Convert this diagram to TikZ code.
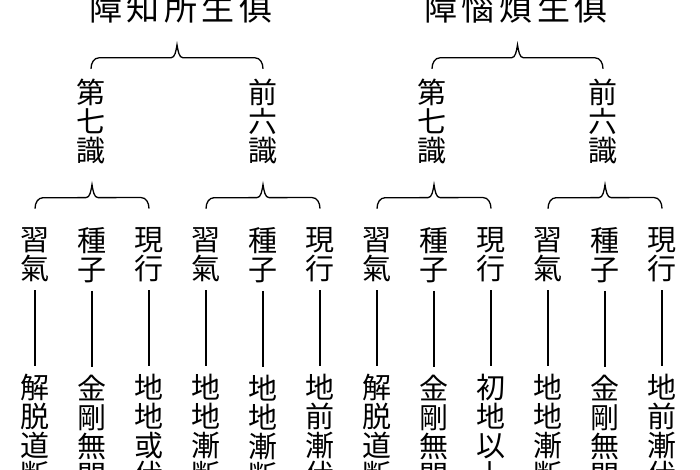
\documentclass[tikz,border=0pt]{standalone}
\usepackage{fontspec}
\setmainfont{Noto Sans CJK JP}
\usetikzlibrary{positioning, calc}
\tikzstyle{title} = [inner sep=0, font=\fontsize{33pt}{33pt}\selectfont]
\tikzstyle{vert} = [inner sep=0, align=center, font=\fontsize{29pt}{29pt}\selectfont]
\tikzstyle{line} = [line width=1.6pt, shorten <=8pt, shorten >=8pt]
\tikzstyle{bracketline} = [line width=1.3pt]
\newcommand{\gap}{\hspace{4.5pt}}
% brace between two nodes, tip pointing up
\newcommand{\bracket}[3]{%
  \path ([yshift=#3]#1.north) coordinate (bl) ([yshift=#3]#2.north) coordinate (br);
  \draw[bracketline] (bl) .. controls +(0,-6) and +(-5,0) .. ($(bl)+(8,-11)$)
    -- ($(bl)!.5!(br)+(-6,-11)$) .. controls +(4,0) and +(-1,6) .. ($(bl)!.5!(br)+(0,-24)$)
    .. controls +(1,6) and +(-4,0) .. ($(bl)!.5!(br)+(6,-11)$)
    -- ($(br)+(-8,-11)$) .. controls +(5,0) and +(0,-6) .. (br);
}

\begin{document}
\begin{tikzpicture}[x=1pt, y=-1pt]
    \clip (0,0) rectangle (700,470);
    \node (cognitive) [title] at (181,8) {障\gap 知\gap 所\gap 生\gap 俱};
    \node (afflictive) [title] at (516,8) {障\gap 惱\gap 煩\gap 生\gap 俱};

    \node (seventh1) [vert] at (91,121.5) {第\\七\\識};
    \node (sixth1) [vert] at (263,121.5) {前\\六\\識};
    \node (seventh2) [vert] at (432,121.5) {第\\七\\識};
    \node (sixth2) [vert] at (603,121.5) {前\\六\\識};

    \node (hab1) [vert] at (35,255) {習\\氣};
    \node (seed1) [vert, right=27.6pt of hab1] {種\\子};
    \node (act1) [vert, right=27.6pt of seed1] {現\\行};
    \node (hab2) [vert, right=27.6pt of act1] {習\\氣};
    \node (seed2) [vert, right=27.6pt of hab2] {種\\子};
    \node (act2) [vert, right=27.6pt of seed2] {現\\行};
    \node (hab3) [vert] at (377,255) {習\\氣};
    \node (seed3) [vert, right=27.6pt of hab3] {種\\子};
    \node (act3) [vert, right=27.6pt of seed3] {現\\行};
    \node (hab4) [vert, right=27.6pt of act3] {習\\氣};
    \node (seed4) [vert, right=27.6pt of hab4] {種\\子};
    \node (act4) [vert, right=27.6pt of seed4] {現\\行};

    \node (hab1d) [vert, below=91.8pt of hab1] {解\\脱\\道\\断};
    \node (seed1d) [vert, below=91.8pt of seed1] {金\\剛\\無\\間};
    \node (act1d) [vert, below=91.8pt of act1] {地\\地\\或\\伏};
    \node (hab2d) [vert, below=91.8pt of hab2] {地\\地\\漸\\断};
    \node (seed2d) [vert, below=91.8pt of seed2] {地\\地\\漸\\断};
    \node (act2d) [vert, below=91.8pt of act2] {地\\前\\漸\\伏};
    \node (hab3d) [vert, below=91.8pt of hab3] {解\\脱\\道\\断};
    \node (seed3d) [vert, below=91.8pt of seed3] {金\\剛\\無\\間};
    \node (act3d) [vert, below=91.8pt of act3] {初\\地\\以\\上};
    \node (hab4d) [vert, below=91.8pt of hab4] {地\\地\\漸\\断};
    \node (seed4d) [vert, below=91.8pt of seed4] {金\\剛\\無\\間};
    \node (act4d) [vert, below=91.8pt of act4] {地\\前\\漸\\伏};

    \draw[line] (hab1) -- (hab1d);
    \draw[line] (seed1) -- (seed1d);
    \draw[line] (act1) -- (act1d);
    \draw[line] (hab2) -- (hab2d);
    \draw[line] (seed2) -- (seed2d);
    \draw[line] (act2) -- (act2d);
    \draw[line] (hab3) -- (hab3d);
    \draw[line] (seed3) -- (seed3d);
    \draw[line] (act3) -- (act3d);
    \draw[line] (hab4) -- (hab4d);
    \draw[line] (seed4) -- (seed4d);
    \draw[line] (act4) -- (act4d);

    \bracket{seventh1}{sixth1}{10pt}
    \bracket{seventh2}{sixth2}{10pt}
    \bracket{hab1}{act1}{19pt}
    \bracket{hab2}{act2}{19pt}
    \bracket{hab3}{act3}{19pt}
    \bracket{hab4}{act4}{19pt}
\end{tikzpicture}
\end{document}
